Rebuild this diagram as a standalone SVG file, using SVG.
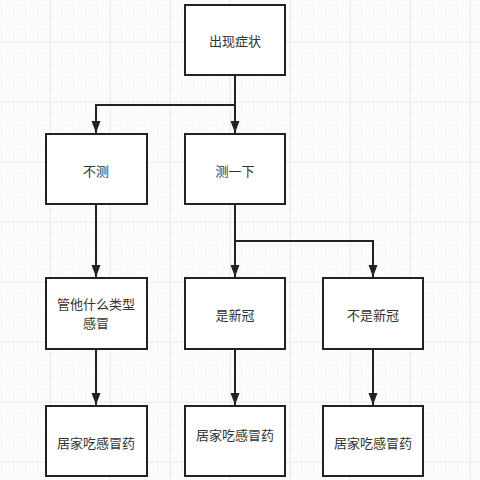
<svg xmlns="http://www.w3.org/2000/svg" width="480" height="480" viewBox="0 0 480 480">
<defs>
<pattern id="minor" x="2" y="6" width="12" height="12" patternUnits="userSpaceOnUse">
<path d="M12 0V12M0 12H12" fill="none" stroke="#f1f1f1" stroke-width="1"/>
</pattern>
<pattern id="major" x="50" y="42" width="60" height="60" patternUnits="userSpaceOnUse">
<path d="M0 0V60M0 0H60" fill="none" stroke="#e3e3e3" stroke-width="1.2"/>
</pattern>
<marker id="arr" viewBox="0 0 12 10" refX="12" refY="5" markerWidth="12" markerHeight="10" markerUnits="userSpaceOnUse" orient="auto">
<path d="M0 0.5L12 5L0 9.5z" fill="#222"/>
</marker>
</defs>
<style>
.box{fill:#fff;stroke:#222;stroke-width:2}
.t{font-family:"Noto Sans CJK SC","Noto Sans",sans-serif;font-size:13px;fill:#333;text-anchor:middle;dominant-baseline:central}
.c{fill:none;stroke:#222;stroke-width:2}
</style>
<rect width="480" height="480" fill="#fcfcfc"/>
<rect width="480" height="480" fill="url(#minor)"/>
<rect width="480" height="480" fill="url(#major)"/>
<g id="connectors">
<path class="c" d="M235 75V133" marker-end="url(#arr)"/>
<path class="c" d="M235 105H96V133" marker-end="url(#arr)"/>
<path class="c" d="M96 204V277" marker-end="url(#arr)"/>
<path class="c" d="M235 204V277" marker-end="url(#arr)"/>
<path class="c" d="M235 241H373V277" marker-end="url(#arr)"/>
<path class="c" d="M96 349V405" marker-end="url(#arr)"/>
<path class="c" d="M235 349V405" marker-end="url(#arr)"/>
<path class="c" d="M373 349V405" marker-end="url(#arr)"/>
</g>
<g id="n1"><rect class="box" x="185" y="5" width="100" height="70"/><text class="t" x="235" y="40">出现症状</text></g>
<g id="n2"><rect class="box" x="46" y="134" width="101" height="70"/><text class="t" x="96" y="170">不测</text></g>
<g id="n3"><rect class="box" x="185" y="134" width="100" height="70"/><text class="t" x="235" y="170">测一下</text></g>
<g id="n4"><rect class="box" x="46" y="278" width="101" height="71"/><text class="t" x="96" y="303">管他什么类型</text><text class="t" x="96" y="322.5">感冒</text></g>
<g id="n5"><rect class="box" x="185" y="278" width="100" height="71"/><text class="t" x="235" y="314">是新冠</text></g>
<g id="n6"><rect class="box" x="323" y="278" width="100" height="71"/><text class="t" x="373" y="314">不是新冠</text></g>
<g id="n7"><rect class="box" x="46" y="406" width="101" height="70"/><text class="t" x="96" y="442">居家吃感冒药</text></g>
<g id="n8"><rect class="box" x="185" y="406" width="100" height="70"/><text class="t" x="235" y="434">居家吃感冒药</text></g>
<g id="n9"><rect class="box" x="323" y="406" width="100" height="70"/><text class="t" x="373" y="442">居家吃感冒药</text></g>
</svg>
